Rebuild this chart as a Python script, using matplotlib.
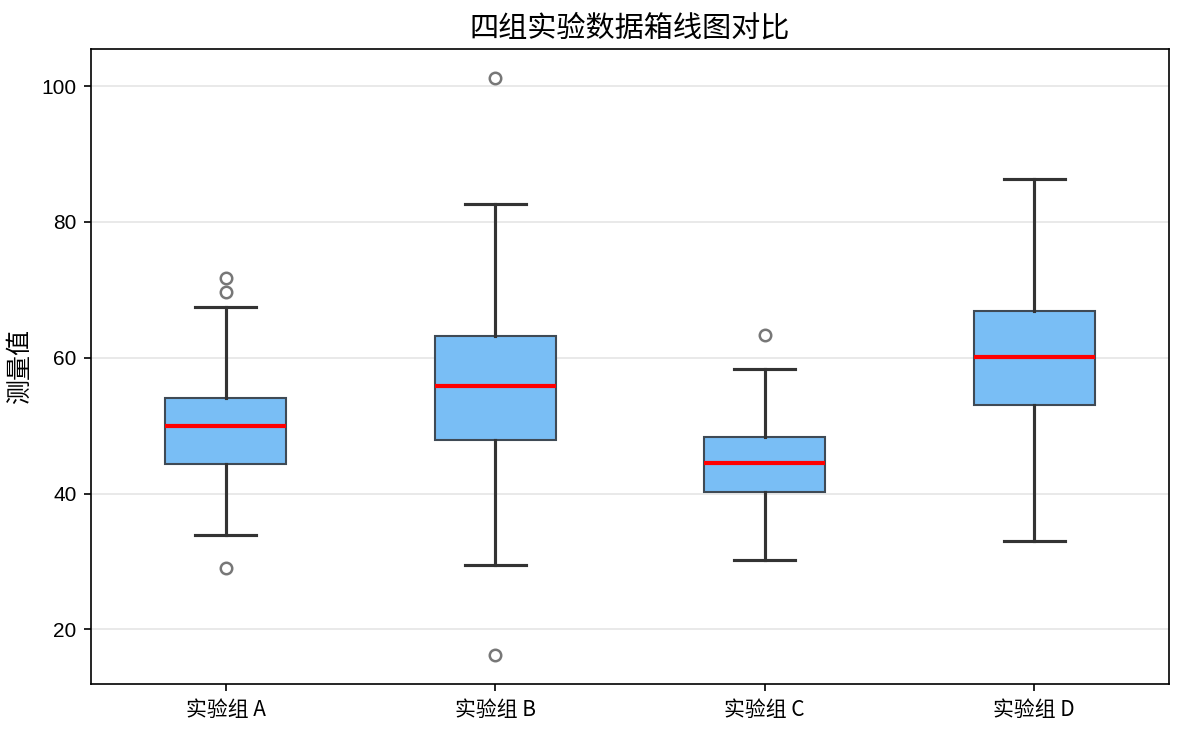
import matplotlib
matplotlib.use('Agg')
import matplotlib.pyplot as plt

plt.rcParams['font.family'] = ['Noto Sans CJK SC', 'DejaVu Sans']
plt.rcParams['axes.unicode_minus'] = False

# Box statistics
groups = ['实验组 A', '实验组 B', '实验组 C', '实验组 D']
whislo = [33.9, 29.4, 30.2, 33.0]
q1 = [44.4, 47.9, 40.2, 53.1]
med = [50.0, 55.9, 44.5, 60.1]
q3 = [54.0, 63.2, 48.3, 66.8]
whishi = [67.5, 82.7, 58.4, 86.3]
fliers = [[71.7, 69.6, 29.0], [101.2, 16.2], [63.4], []]

stats = []
for i, g in enumerate(groups):
    stats.append({'label': g, 'whislo': whislo[i], 'q1': q1[i], 'med': med[i],
                  'q3': q3[i], 'whishi': whishi[i], 'fliers': fliers[i]})

fig = plt.figure(figsize=(1183 / 150, 733 / 150), dpi=150)
ax = fig.add_axes([91 / 1183, 1 - 684 / 733, (1169 - 91) / 1183, (684 - 49) / 733])

ax.bxp(stats, widths=0.45, patch_artist=True,
       boxprops=dict(facecolor='#79BEF5', edgecolor='#3f4a55', linewidth=1.0),
       medianprops=dict(color='red', linewidth=2),
       whiskerprops=dict(color='#333333', linewidth=1.5),
       capprops=dict(color='#333333', linewidth=1.5),
       flierprops=dict(marker='o', markerfacecolor='none', markeredgecolor='#777777',
                       markersize=5.5, markeredgewidth=1.2))

ax.set_title('四组实验数据箱线图对比', fontsize=14)
ax.set_ylabel('测量值', fontsize=12)
ax.grid(axis='y', color='#cccccc', alpha=0.5, linewidth=0.8)
ax.set_axisbelow(True)
ax.tick_params(labelsize=10)
for t in ax.get_yticklabels():
    t.set_family('Liberation Sans')

fig.savefig('out.png', dpi=150)
